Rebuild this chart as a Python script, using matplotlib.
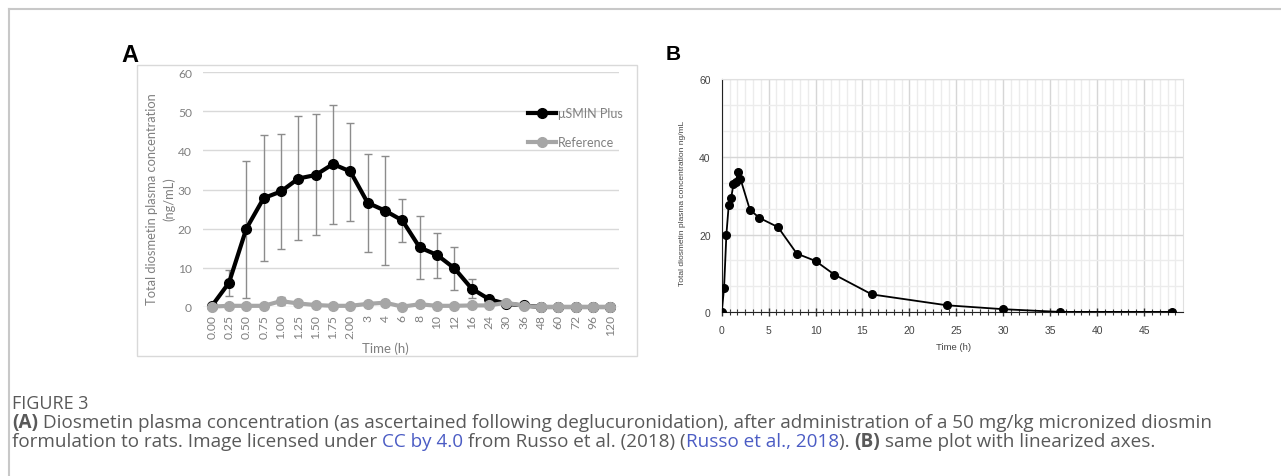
import matplotlib
matplotlib.use('Agg')
import matplotlib.pyplot as plt
from matplotlib.lines import Line2D
from matplotlib.patches import Rectangle
from matplotlib.ticker import MultipleLocator
import numpy as np

# ---- data ----
cats = ['0.00', '0.25', '0.50', '0.75', '1.00', '1.25', '1.50', '1.75', '2.00',
        '3', '4', '6', '8', '10', '12', '16', '24', '30', '36', '48',
        '60', '72', '96', '120']
smin = [0.2, 6.2, 20.0, 27.8, 29.5, 32.8, 33.7, 36.5, 34.6, 26.6, 24.6, 22.1,
        15.2, 13.3, 9.9, 4.7, 2.0, 0.8, 0.4, 0.0, 0.0, 0.0, 0.0, 0.0]
smin_hi = [0.3, 9.5, 37.3, 43.8, 44.2, 48.7, 49.3, 51.6, 47.1, 39.1, 38.6, 27.6,
           23.3, 18.9, 15.4, 7.1, 2.4, 1.0, 0.5, 0.0, 0.0, 0.0, 0.0, 0.0]
smin_lo = [0.1, 2.9, 2.4, 11.7, 14.9, 17.2, 18.4, 21.3, 22.0, 14.0, 10.6, 16.7,
           7.1, 7.5, 4.3, 2.2, 1.6, 0.6, 0.3, 0.0, 0.0, 0.0, 0.0, 0.0]
ref = [0.1, 0.3, 0.3, 0.3, 1.5, 0.9, 0.5, 0.3, 0.3, 0.8, 1.1, 0.1, 0.7, 0.3,
       0.3, 0.4, 0.4, 1.1, 0.3, 0.0, 0.0, 0.0, 0.0, 0.0]
ref_hi = [0.1, 0.4, 0.4, 0.4, 2.6, 1.4, 0.6, 0.4, 0.4, 1.2, 1.6, 0.2, 0.9, 0.4,
          0.4, 0.5, 0.5, 1.5, 0.4, 0.0, 0.0, 0.0, 0.0, 0.0]
ref_lo = [0.1, 0.2, 0.2, 0.2, 0.6, 0.5, 0.4, 0.2, 0.2, 0.5, 0.7, 0.0, 0.5, 0.2,
          0.2, 0.3, 0.3, 0.7, 0.2, 0.0, 0.0, 0.0, 0.0, 0.0]

time_h = [0, 0.25, 0.5, 0.75, 1, 1.25, 1.5, 1.75, 2, 3, 4, 6, 8, 10, 12, 16,
          24, 30, 36, 48]
conc_b = [0.0, 6.2, 20.0, 27.6, 29.3, 32.9, 33.6, 36.2, 34.3, 26.4, 24.3, 21.9,
          15.1, 13.2, 9.7, 4.6, 1.8, 0.8, 0.1, 0.1]

W, H = 1281, 477
fig = plt.figure(figsize=(W / 100, H / 100), dpi=100)

def fx(px):
    return px / W

def fy(py):
    return 1 - py / H

# page border (top + left)
fig.add_artist(Line2D([fx(9), 1], [fy(10), fy(10)], color='#c8c8c8', lw=1.5))
fig.add_artist(Line2D([fx(9), fx(9)], [fy(10), 0], color='#c8c8c8', lw=1.5))

# ---------------- panel A ----------------
fa = 'Lato'
gray_txt = '#808080'
fig.add_artist(Rectangle((fx(137), fy(357)), fx(637) - fx(137), fy(66) - fy(357),
                         fill=False, ec='#d9d9d9', lw=1))
fig.text(fx(121), fy(55), 'A', fontsize=17, fontweight='bold', family='Liberation Sans',
         va='center', ha='left')

axA = fig.add_axes([fx(203), fy(308), fx(619) - fx(203), fy(73) - fy(308)])
x = np.arange(len(cats))
axA.set_xlim(-0.5, len(cats) - 0.5)
axA.set_ylim(0, 60)
axA.set_yticks(np.arange(0, 61, 10))
axA.grid(axis='y', color='#d9d9d9', lw=1)
axA.set_axisbelow(True)
for s in axA.spines.values():
    s.set_visible(False)
axA.tick_params(length=0, colors=gray_txt, labelsize=8.7)
axA.set_xticks(x)
axA.set_xticklabels(cats, rotation=90, family=fa)
for lab in axA.get_yticklabels():
    lab.set_family(fa)
axA.tick_params(axis='y', pad=8)
axA.tick_params(axis='x', pad=5)

sm = np.array(smin)
rf = np.array(ref)
axA.errorbar(x, sm, yerr=[sm - np.array(smin_lo), np.array(smin_hi) - sm], fmt='none',
             ecolor='#8c8c8c', elinewidth=1, capsize=3, capthick=1, zorder=2, clip_on=False)
axA.errorbar(x, rf, yerr=[rf - np.array(ref_lo), np.array(ref_hi) - rf], fmt='none',
             ecolor='#8c8c8c', elinewidth=1, capsize=3, capthick=1, zorder=2, clip_on=False)
axA.plot(x, sm, color='black', lw=3, marker='o', ms=7, zorder=3, clip_on=False,
         label='μSMIN Plus')
axA.plot(x, rf, color='#a6a6a6', lw=3, marker='o', ms=7, zorder=4, clip_on=False,
         label='Reference')

# legend drawn by hand to keep the Excel look
for yy, col, lab in [(114, 'black', 'μSMIN Plus'), (143, '#a6a6a6', 'Reference')]:
    fig.add_artist(Line2D([fx(528), fx(556)], [fy(yy), fy(yy)], color=col, lw=3))
    fig.add_artist(Line2D([fx(542)], [fy(yy)], color=col, marker='o', ms=7, lw=0))
    fig.text(fx(558), fy(yy), lab, color=gray_txt, fontsize=9, family=fa, va='center')

fig.text(fx(152), fy(199), 'Total diosmetin plasma concentration', rotation=90,
         color=gray_txt, fontsize=9.3, family=fa, ha='center', va='center')
fig.text(fx(169), fy(199), '(ng/mL)', rotation=90, color=gray_txt, fontsize=9.3,
         family=fa, ha='center', va='center')
fig.text(fx(385), fy(349), 'Time (h)', color=gray_txt, fontsize=9.5, family=fa,
         ha='center', va='center')

# ---------------- panel B ----------------
fb = 'Liberation Sans'
fig.text(fx(666), fy(55), 'B', fontsize=15, fontweight='bold', family=fb,
         va='center', ha='left')
axB = fig.add_axes([fx(721.7), fy(313.3), fx(1183) - fx(721.7), fy(80) - fy(313.3)])
axB.set_xlim(0, 49.15)
axB.set_ylim(0, 60)
axB.xaxis.set_major_locator(MultipleLocator(5))
axB.xaxis.set_minor_locator(MultipleLocator(5 / 6))
axB.yaxis.set_major_locator(MultipleLocator(20))
axB.yaxis.set_minor_locator(MultipleLocator(20 / 3))
axB.grid(which='major', color='#d6d6d6', lw=1)
axB.grid(which='minor', color='#ececec', lw=1)
axB.set_axisbelow(True)
axB.spines['top'].set_color('#e0e0e0')
axB.spines['right'].set_color('#e0e0e0')
axB.spines['left'].set_color('#222222')
axB.spines['bottom'].set_color('#222222')
axB.tick_params(axis='x', which='both', direction='inout', color='#333333',
                labelsize=7.5, labelcolor='#444444', pad=6)
axB.tick_params(axis='x', which='major', length=6, width=1)
axB.tick_params(axis='x', which='minor', length=4, width=0.8)
axB.tick_params(axis='y', which='both', length=0, labelsize=7.5, labelcolor='#444444',
                pad=8)
for lab in axB.get_xticklabels() + axB.get_yticklabels():
    lab.set_family(fb)
axB.plot(time_h, conc_b, color='black', lw=1.3, marker='o', ms=5.5, zorder=3)
fig.text(fx(683), fy(203), 'Total diosmetin plasma concentration ng/mL', rotation=90,
         color='#444444', fontsize=6.0, family=fb, ha='center', va='center')
fig.text(fx(954), fy(347), 'Time (h)', color='#444444', fontsize=6.8, family=fb,
         ha='center', va='center')

# ---------------- caption ----------------
fc = 'Open Sans'
cap_col = '#595959'
link_col = '#4b5cc4'
fs_cap = 13.6
fig.text(fx(12), fy(404), 'FIGURE 3', color=cap_col, fontsize=fs_cap - 0.6, family=fc,
         va='center')

lines = [
    [('(A)', cap_col, 'bold'),
     (' Diosmetin plasma concentration (as ascertained following deglucuronidation), '
      'after administration of a 50 mg/kg micronized diosmin', cap_col, 'normal')],
    [('formulation to rats. Image licensed under ', cap_col, 'normal'),
     ('CC by 4.0', link_col, 'normal'),
     (' from Russo et al. (2018) (', cap_col, 'normal'),
     ('Russo et al., 2018', link_col, 'normal'),
     ('). ', cap_col, 'normal'),
     ('(B)', cap_col, 'bold'),
     (' same plot with linearized axes.', cap_col, 'normal')],
]
renderer = fig.canvas.get_renderer()
for py, runs in zip([423, 442], lines):
    xpos = 12
    for txt, col, wt in runs:
        t = fig.text(fx(xpos), fy(py), txt, color=col, fontsize=fs_cap, family=fc,
                     fontweight=wt, va='center', ha='left')
        bb = t.get_window_extent(renderer=renderer)
        xpos += bb.width

fig.savefig('out.png', dpi=100)
